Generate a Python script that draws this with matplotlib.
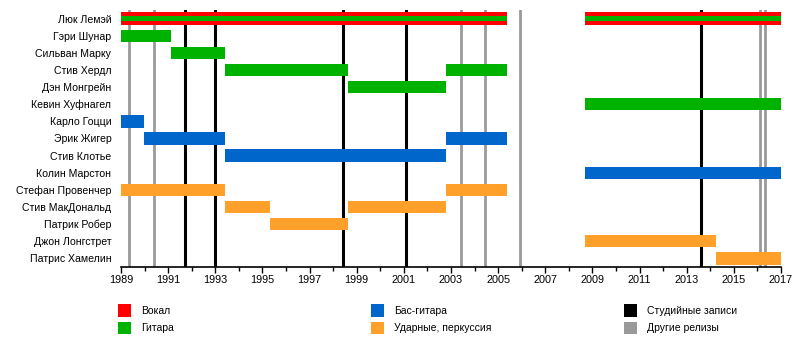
import matplotlib.pyplot as plt
from matplotlib.patches import Rectangle

plt.rcParams["font.family"] = ["Liberation Sans", "DejaVu Sans"]

members = [
    "Люк Лемэй", "Гэри Шунар", "Сильван Марку", "Стив Хердл", "Дэн Монгрейн",
    "Кевин Хуфнагел", "Карло Гоцци", "Эрик Жигер", "Стив Клотье", "Колин Марстон",
    "Стефан Провенчер", "Стив МакДональд", "Патрик Робер", "Джон Лонгстрет",
    "Патрис Хамелин",
]

# (member, start, end)
vocals = [("Люк Лемэй", 1989.0, 2005.38), ("Люк Лемэй", 2008.69, 2017.0)]
guitar = [
    ("Люк Лемэй", 1989.0, 2005.38), ("Люк Лемэй", 2008.69, 2017.0),
    ("Гэри Шунар", 1989.0, 1991.12),
    ("Сильван Марку", 1991.12, 1993.41),
    ("Стив Хердл", 1993.41, 1998.63), ("Стив Хердл", 2002.77, 2005.38),
    ("Дэн Монгрейн", 1998.63, 2002.77),
    ("Кевин Хуфнагел", 2008.69, 2017.0),
]
bass = [
    ("Карло Гоцци", 1989.0, 1989.98),
    ("Эрик Жигер", 1989.98, 1993.41), ("Эрик Жигер", 2002.77, 2005.38),
    ("Стив Клотье", 1993.41, 2002.77),
    ("Колин Марстон", 2008.69, 2017.0),
]
drums = [
    ("Стефан Провенчер", 1989.0, 1993.41), ("Стефан Провенчер", 2002.77, 2005.38),
    ("Стив МакДональд", 1993.41, 1995.32), ("Стив МакДональд", 1998.63, 2002.77),
    ("Патрик Робер", 1995.32, 1998.63),
    ("Джон Лонгстрет", 2008.69, 2014.24),
    ("Патрис Хамелин", 2014.24, 2017.0),
]
studio_releases = [1991.72, 1993.0, 1998.43, 2001.08, 2013.6]
other_releases = [1989.35, 1990.38, 2003.43, 2004.43, 2005.93, 2016.1, 2016.3]

legend_labels = ["Вокал", "Гитара", "Бас-гитара", "Ударные, перкуссия",
                 "Студийные записи", "Другие релизы"]
legend_colors = ["#ff0000", "#00b200", "#0066cc", "#ffa02a", "#000000", "#999999"]

fig = plt.figure(figsize=(8, 3.52), dpi=100)
ax = fig.add_axes([121 / 800, 1 - 267 / 352, 660 / 800, 257 / 352])

for x in other_releases:
    ax.axvline(x, color="#999999", lw=2.0, zorder=1)
for x in studio_releases:
    ax.axvline(x, color="#000000", lw=2.2, zorder=1)

row = {m: i for i, m in enumerate(members)}


def draw(bars, color, height, z):
    for m, s, e in bars:
        ax.barh(row[m], e - s, left=s, height=height, color=color, lw=0, zorder=z)


draw(vocals, legend_colors[0], 0.72, 2)
draw([b for b in guitar if b[0] == "Люк Лемэй"], legend_colors[1], 0.27, 3)
draw([b for b in guitar if b[0] != "Люк Лемэй"], legend_colors[1], 0.72, 2)
draw(bass, legend_colors[2], 0.72, 2)
draw(drums, legend_colors[3], 0.72, 2)

ax.set_xlim(1989, 2017)
ax.set_ylim(len(members) - 0.5, -0.5)
ax.set_yticks(range(len(members)))
ax.set_yticklabels(members, fontsize=7.6)
ax.tick_params(axis="y", length=0, pad=7)
ax.set_xticks(range(1989, 2018, 2))
ax.set_xticks(range(1989, 2018), minor=True)
ax.tick_params(axis="x", which="major", length=4, width=1, labelsize=7.8, pad=1.5)
ax.tick_params(axis="x", which="minor", length=3, width=1)
for side in ["top", "right", "left"]:
    ax.spines[side].set_visible(False)
ax.spines["bottom"].set_linewidth(1.2)

# legend, three columns of two
for i, (label, color) in enumerate(zip(legend_labels, legend_colors)):
    col, r = divmod(i, 2)
    x0 = 118 + col * 253
    y0 = 304 + r * 17.5
    fig.patches.append(Rectangle((x0 / 800, 1 - (y0 + 12.5) / 352), 12.5 / 800, 12.5 / 352,
                                 transform=fig.transFigure, color=color, lw=0))
    fig.text((x0 + 23) / 800, 1 - (y0 + 6.5) / 352, label, fontsize=7.5, va="center")

fig.savefig("out.png", dpi=100)
